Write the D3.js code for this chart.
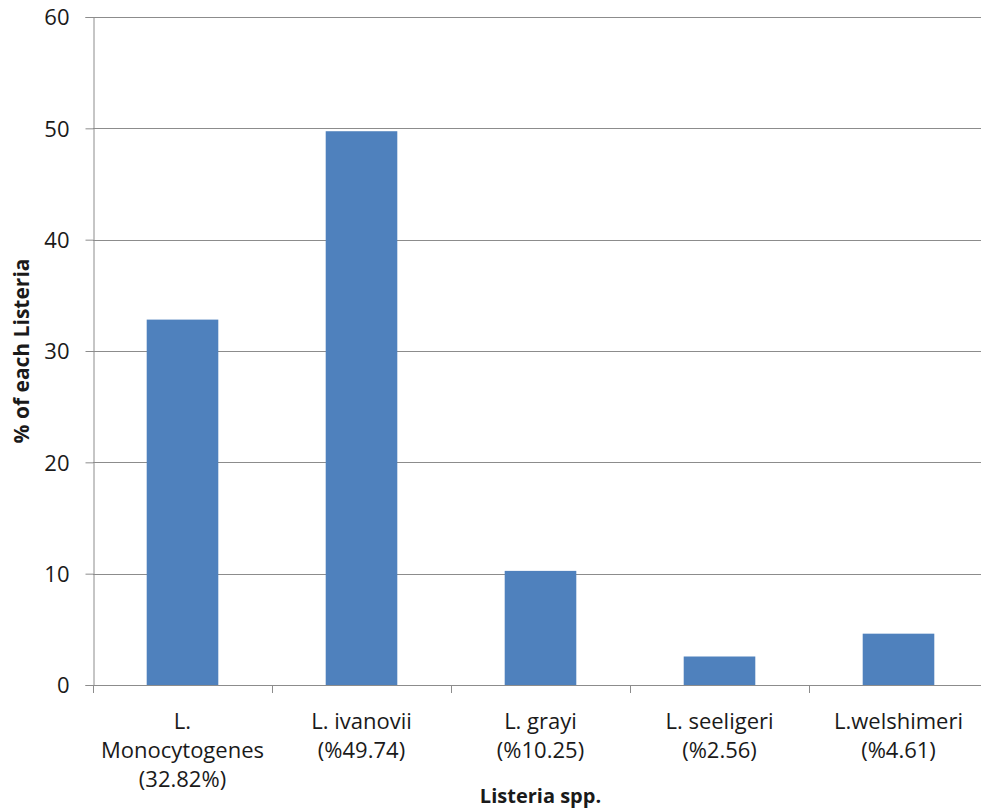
<!DOCTYPE html>
<html>
<head>
<meta charset="utf-8">
<script src="https://cdn.jsdelivr.net/npm/d3@7"></script>
<style>
  body { margin: 0; background: #fff; }
  svg text { font-family: "Open Sans", sans-serif; fill: #1a1a1a; }
</style>
</head>
<body>
<div id="chart"></div>
<script>
// data
var categories = ['L. Monocytogenes', 'L. ivanovii', 'L. grayi', 'L. seeligeri', 'L.welshimeri'];
var labelLines = [
  ['L.', 'Monocytogenes', '(32.82%)'],
  ['L. ivanovii', '(%49.74)'],
  ['L. grayi', '(%10.25)'],
  ['L. seeligeri', '(%2.56)'],
  ['L.welshimeri', '(%4.61)']
];
var values = [32.82, 49.74, 10.25, 2.56, 4.61];
var yTicks = [0, 10, 20, 30, 40, 50, 60];

var width = 981, height = 811;
var margin = { top: 17, right: -7, bottom: 126, left: 93 };

var svg = d3.select('#chart')
  .append('svg')
  .attr('width', width)
  .attr('height', height);

var x = d3.scaleBand()
  .domain(categories)
  .range([margin.left, width - margin.right])
  .paddingInner(0.6)
  .paddingOuter(0.3);

var xEdge = d3.scaleLinear()
  .domain([0, categories.length])
  .range([margin.left, width - margin.right]);

var y = d3.scaleLinear()
  .domain([0, 60])
  .range([height - margin.bottom, margin.top]);

// gridlines
svg.append('g')
  .selectAll('line')
  .data(yTicks.filter(d => d > 0))
  .enter()
  .append('line')
  .attr('x1', margin.left)
  .attr('x2', width - margin.right)
  .attr('y1', d => Math.round(y(d)) + 0.5)
  .attr('y2', d => Math.round(y(d)) + 0.5)
  .attr('stroke', '#8c8c8c')
  .attr('stroke-width', 1);

// bars
svg.append('g')
  .selectAll('rect')
  .data(values)
  .enter()
  .append('rect')
  .attr('x', (d, i) => x(categories[i]))
  .attr('y', d => y(d))
  .attr('width', x.bandwidth())
  .attr('height', d => y(0) - y(d))
  .attr('fill', '#4f81bd');

// y axis
var yAxis = svg.append('g')
  .attr('transform', `translate(${margin.left + 0.5},0)`)
  .call(d3.axisLeft(y).tickValues(yTicks).tickSize(8).tickPadding(16));
yAxis.selectAll('path, line').attr('stroke', '#8c8c8c');
yAxis.selectAll('text')
  .style('font-size', '22px')
  .attr('dy', '0.36em');

// x axis line + category boundary ticks
var xAxis = svg.append('g');
xAxis.append('line')
  .attr('x1', margin.left)
  .attr('x2', width - margin.right)
  .attr('y1', Math.round(y(0)) + 0.5)
  .attr('y2', Math.round(y(0)) + 0.5)
  .attr('stroke', '#8c8c8c');
xAxis.selectAll('.xt')
  .data(d3.range(categories.length + 1))
  .enter()
  .append('line')
  .attr('x1', d => Math.round(xEdge(d)) + 0.5)
  .attr('x2', d => Math.round(xEdge(d)) + 0.5)
  .attr('y1', y(0))
  .attr('y2', y(0) + 8)
  .attr('stroke', '#8c8c8c');

// category labels
var lab = svg.append('g')
  .selectAll('text')
  .data(labelLines)
  .enter()
  .append('text')
  .attr('text-anchor', 'middle')
  .attr('x', (d, i) => x(categories[i]) + x.bandwidth() / 2)
  .attr('y', 729)
  .style('font-size', '22px');
lab.selectAll('tspan')
  .data((d, i) => d.map(t => ({ t: t, cx: x(categories[i]) + x.bandwidth() / 2 })))
  .enter()
  .append('tspan')
  .attr('x', d => d.cx)
  .attr('dy', (d, j) => j === 0 ? 0 : 29)
  .text(d => d.t);

// axis titles
svg.append('text')
  .attr('x', (margin.left + width - margin.right) / 2)
  .attr('y', 803)
  .attr('text-anchor', 'middle')
  .style('font-size', '20px')
  .style('font-weight', 'bold')
  .text('Listeria spp.');

svg.append('text')
  .attr('transform', `translate(29,${(y(0) + y(60)) / 2}) rotate(-90)`)
  .attr('text-anchor', 'middle')
  .style('font-size', '21px')
  .style('font-weight', 'bold')
  .text('% of each Listeria');
</script>
</body>
</html>
